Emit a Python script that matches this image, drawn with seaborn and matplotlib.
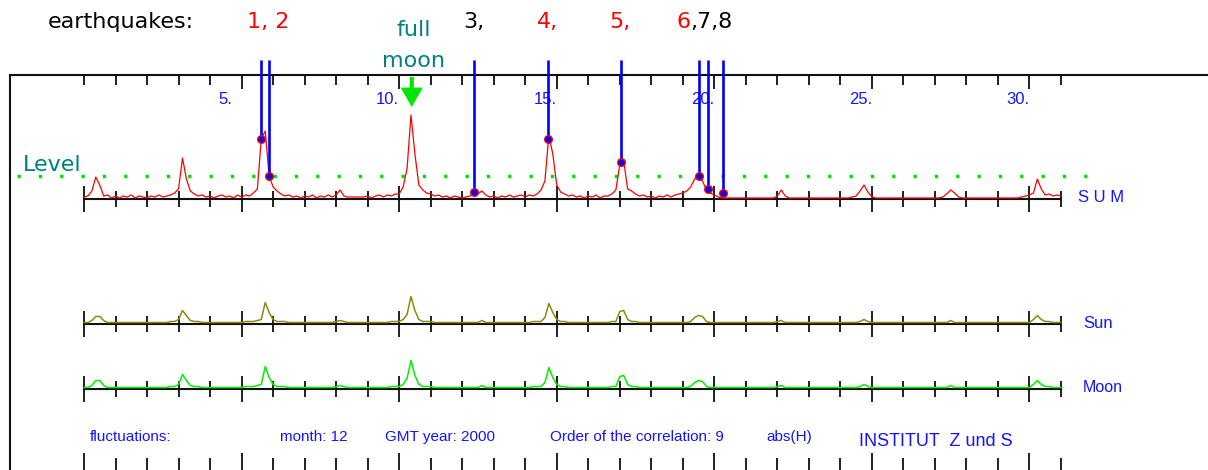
import numpy as np
import matplotlib.pyplot as plt
import matplotlib.transforms as mtransforms
from matplotlib.ticker import FixedLocator
import seaborn as sns

# correlation strength per 3-hour step (8 values per day), December 2000
sum_by_day = [
    [2, 3, 8, 22, 14, 3, 4, 1],
    [3, 1, 3, 2, 4, 1, 3, 2],
    [1, 3, 2, 4, 2, 3, 4, 6],
    [10, 41, 20, 8, 5, 3, 4, 2],
    [3, 1, 3, 4, 2, 3, 1, 4],
    [2, 4, 3, 6, 10, 60, 68, 23],
    [12, 8, 5, 3, 4, 2, 3, 1],
    [3, 2, 4, 1, 3, 2, 4, 2],
    [4, 9, 3, 2, 2, 2, 2, 2],
    [3, 1, 3, 4, 2, 4, 3, 5],
    [5, 12, 30, 84, 45, 14, 9, 6],
    [5, 3, 4, 2, 3, 1, 3, 2],
    [1, 2, 3, 6, 5, 8, 4, 2],
    [3, 1, 3, 2, 4, 2, 3, 4],
    [2, 4, 3, 5, 9, 18, 64, 45],
    [14, 7, 5, 3, 4, 2, 3, 1],
    [3, 2, 4, 1, 3, 3, 5, 9],
    [34, 38, 10, 8, 5, 3, 4, 2],
    [3, 1, 3, 2, 4, 2, 4, 5],
    [6, 8, 12, 20, 24, 18, 9, 6],
    [4, 2, 1, 1, 1, 1, 1, 1],
    [1, 1, 1, 1, 1, 1, 1, 1],
    [3, 9, 3, 1, 1, 1, 1, 1],
    [1, 1, 1, 1, 1, 1, 1, 1],
    [1, 1, 1, 2, 3, 8, 14, 7],
    [2, 1, 1, 1, 1, 1, 1, 1],
    [1, 1, 1, 1, 1, 1, 1, 1],
    [1, 1, 2, 5, 9, 6, 2, 1],
    [1, 1, 1, 1, 1, 1, 1, 1],
    [1, 1, 1, 1, 1, 1, 2, 3],
    [4, 6, 20, 10, 4, 5, 3, 4],
]
sum_last = 3

sun_by_day = [
    [0, 0, 2, 6, 6, 2, 0, 0],
    [0, 0, 0, 0, 0, 0, 0, 0],
    [0, 0, 0, 0, 0, 0, 1, 1],
    [3, 12, 7, 2, 1, 1, 0, 0],
    [0, 0, 0, 0, 0, 0, 0, 0],
    [0, 1, 1, 1, 2, 3, 20, 10],
    [3, 1, 1, 1, 0, 0, 0, 0],
    [0, 0, 0, 0, 0, 0, 0, 0],
    [1, 2, 1, 0, 0, 0, 0, 0],
    [0, 0, 0, 0, 0, 0, 1, 1],
    [1, 3, 8, 26, 12, 3, 1, 1],
    [1, 0, 0, 0, 0, 0, 0, 0],
    [0, 0, 0, 0, 0, 2, 0, 0],
    [0, 0, 0, 0, 0, 0, 0, 0],
    [0, 0, 1, 1, 1, 5, 19, 10],
    [3, 1, 1, 0, 0, 0, 0, 0],
    [0, 0, 0, 0, 0, 0, 1, 1],
    [11, 12, 3, 1, 1, 0, 0, 0],
    [0, 0, 0, 0, 0, 0, 0, 0],
    [0, 0, 1, 5, 7, 6, 1, 0],
    [0, 0, 0, 0, 0, 0, 0, 0],
    [0, 0, 0, 0, 0, 0, 0, 0],
    [1, 2, 0, 0, 0, 0, 0, 0],
    [0, 0, 0, 0, 0, 0, 0, 0],
    [0, 0, 0, 0, 0, 1, 3, 1],
    [0, 0, 0, 0, 0, 0, 0, 0],
    [0, 0, 0, 0, 0, 0, 0, 0],
    [0, 0, 0, 0, 2, 0, 0, 0],
    [0, 0, 0, 0, 0, 0, 0, 0],
    [0, 0, 0, 0, 0, 0, 0, 0],
    [0, 3, 7, 3, 1, 1, 0, 0],
]
sun_last = 0

moon_by_day = [
    [0, 0, 2, 7, 7, 2, 0, 0],
    [0, 0, 0, 0, 0, 0, 0, 0],
    [0, 0, 0, 0, 0, 0, 1, 1],
    [3, 13, 7, 2, 1, 1, 0, 0],
    [0, 0, 0, 0, 0, 0, 0, 0],
    [0, 1, 1, 1, 2, 3, 21, 10],
    [3, 1, 1, 1, 0, 0, 0, 0],
    [0, 0, 0, 0, 0, 0, 0, 0],
    [1, 2, 1, 0, 0, 0, 0, 0],
    [0, 0, 0, 0, 0, 0, 1, 1],
    [1, 3, 9, 27, 12, 3, 1, 1],
    [1, 0, 0, 0, 0, 0, 0, 0],
    [0, 0, 0, 0, 0, 2, 0, 0],
    [0, 0, 0, 0, 0, 0, 0, 0],
    [0, 0, 1, 1, 1, 5, 20, 10],
    [3, 1, 1, 0, 0, 0, 0, 0],
    [0, 0, 0, 0, 0, 0, 1, 1],
    [11, 12, 3, 1, 1, 0, 0, 0],
    [0, 0, 0, 0, 0, 0, 0, 0],
    [0, 0, 1, 5, 7, 6, 1, 0],
    [0, 0, 0, 0, 0, 0, 0, 0],
    [0, 0, 0, 0, 0, 0, 0, 0],
    [1, 2, 0, 0, 0, 0, 0, 0],
    [0, 0, 0, 0, 0, 0, 0, 0],
    [0, 0, 0, 0, 0, 1, 3, 1],
    [0, 0, 0, 0, 0, 0, 0, 0],
    [0, 0, 0, 0, 0, 0, 0, 0],
    [0, 0, 0, 0, 2, 0, 0, 0],
    [0, 0, 0, 0, 0, 0, 0, 0],
    [0, 0, 0, 0, 0, 0, 0, 0],
    [0, 3, 7, 3, 1, 1, 0, 0],
]
moon_last = 0

# earthquakes: time (days since Dec 1, 0h) and correlation at that time
quake_days = [5.62, 5.87, 12.37, 14.72, 17.04, 19.51, 19.80, 20.28]
quake_values = [60, 23, 7, 60, 37, 23, 10, 6]
full_moon_day = 10.40
level = 23

day_labels = [5, 10, 15, 20, 25, 30]
n_days = 31

sum_values = [v for day in sum_by_day for v in day] + [sum_last]
sun_values = [v for day in sun_by_day for v in day] + [sun_last]
moon_values = [v for day in moon_by_day for v in day] + [moon_last]
t = np.arange(len(sum_values)) / 8.0

W, H = 1208, 470
PPD = (1061 - 84) / 31.0
X0 = 84


def px_day(px):
    return (px - X0) / PPD


XLIM = (px_day(10), px_day(1208))
BLUE = "#1414ff"
TICK = "#202020"

sns.set_theme(style="white")
plt.rcParams["font.family"] = ["DejaVu Sans"]

fig = plt.figure(figsize=(W / 100, H / 100), dpi=100)

# outer frame with day ticks hanging from the top line
axf = fig.add_axes([10 / W, 0, 1198 / W, (H - 74.5) / H])
axf.set_xlim(XLIM)
axf.set_ylim(0, 1)
axf.patch.set_alpha(0)
for s in ["right", "bottom"]:
    axf.spines[s].set_visible(False)
for s in ["left", "top"]:
    axf.spines[s].set_color("#111111")
    axf.spines[s].set_linewidth(1.5)
axf.xaxis.set_ticks_position("top")
axf.xaxis.set_major_locator(FixedLocator(day_labels))
axf.xaxis.set_minor_locator(FixedLocator([d for d in range(n_days + 1) if d not in day_labels]))
axf.tick_params(axis="x", which="major", direction="in", length=10, width=1.4, color=TICK, labeltop=False)
axf.tick_params(axis="x", which="minor", direction="in", length=7.2, width=1.4, color=TICK)
axf.set_yticks([])
for d in day_labels:
    axf.text(d - 23 / PPD, (H - 100) / (H - 74.5), f"{d}.", transform=axf.get_xaxis_transform(),
             ha="left", va="center", color=BLUE, fontsize=12, family="Liberation Sans")


def add_row(top_px, bottom_px, base_px, show_line=True):
    ax = fig.add_axes([10 / W, 1 - bottom_px / H, 1198 / W, (bottom_px - top_px) / H])
    ax.set_xlim(XLIM)
    ax.set_ylim(-(bottom_px - base_px), base_px - top_px)
    ax.patch.set_alpha(0)
    for s in ["left", "right", "top"]:
        ax.spines[s].set_visible(False)
    sp = ax.spines["bottom"]
    sp.set_position(("data", 0))
    sp.set_bounds(0, n_days)
    sp.set_linewidth(1.5)
    sp.set_color("#111111" if show_line else "none")
    ax.xaxis.set_major_locator(FixedLocator(list(range(0, n_days, 5))))
    ax.xaxis.set_minor_locator(FixedLocator([d for d in range(n_days + 1) if d % 5 or d == n_days]))
    ax.tick_params(axis="x", which="major", direction="inout", length=18.7, width=1.4,
                   color=TICK, labelbottom=False, bottom=True)
    ax.tick_params(axis="x", which="minor", direction="inout", length=11.5, width=1.4,
                   color=TICK, bottom=True)
    ax.set_yticks([])
    return ax


ax_sum = add_row(60, 216, 199)
ax_sun = add_row(285, 350, 324)
ax_moon = add_row(350, 415, 389)
ax_foot = add_row(440, 495, 466.5, show_line=False)

# SUM panel
ax_sum.plot([px_day(16.5), px_day(1100)], [level, level], color="#00e000", lw=2.4,
            linestyle=(0, (1, 5.4)), zorder=2)
sns.lineplot(x=t, y=sum_values, ax=ax_sum, color="red", lw=0.9, zorder=3)
top = ax_sum.get_ylim()[1]
ax_sum.vlines(quake_days, quake_values, top, color="#0000ff", lw=1.9, zorder=4)
sns.scatterplot(x=quake_days, y=quake_values, ax=ax_sum, color="#0000ff", edgecolor="red",
                linewidth=1, s=30, zorder=5)
ax_sum.annotate("", xy=(full_moon_day, 199 - 107), xytext=(full_moon_day, 199 - 77),
                arrowprops=dict(facecolor="#00e600", edgecolor="none", width=3,
                                headwidth=16, headlength=14, shrink=0))

# Sun and Moon panels (curve drawn just above the black base line)
for ax, vals, col in [(ax_sun, sun_values, "#8a8a10"), (ax_moon, moon_values, "#00f000")]:
    tr = mtransforms.offset_copy(ax.transData, fig=fig, x=0, y=1.5, units="dots")
    sns.lineplot(x=t, y=vals, ax=ax, color=col, lw=1.1, transform=tr, zorder=3)

for ax in [ax_sum, ax_sun, ax_moon]:
    ax.set_xlim(XLIM)
    ax.set_xlabel("")
    ax.set_ylabel("")


def fx(px):
    return px / W


def fy(py):
    return 1 - py / H


# headline
fig.text(fx(48), fy(28), "earthquakes:", fontsize=16, color="black", va="baseline")
quake_text = [(247, "1, 2", "red"), (463, "3,", "black"), (537, "4,", "red"), (609, "5,", "red")]
for px, s, c in quake_text:
    fig.text(fx(px), fy(28), s, fontsize=16, color=c, va="baseline")
t6 = fig.text(fx(676), fy(28), "6", fontsize=16, color="red", va="baseline")
ax_sum.annotate(",7,8", xy=(1, 0), xycoords=t6, va="bottom", ha="left",
                fontsize=16, color="black", annotation_clip=False)
fig.text(fx(414), fy(36), "full", fontsize=16, color="#008080", ha="center", va="baseline")
fig.text(fx(414), fy(67), "moon", fontsize=16, color="#008080", ha="center", va="baseline")
fig.text(fx(23), fy(171), "Level", fontsize=16, color="#008080", va="baseline")

# row names
fig.text(fx(1078), fy(197), "S U M", fontsize=12, color=BLUE, va="center", family="Liberation Sans")
fig.text(fx(1083), fy(324), "Sun", fontsize=12, color=BLUE, va="center", family="Liberation Sans")
fig.text(fx(1083), fy(388), "Moon", fontsize=11.5, color=BLUE, va="center", family="Liberation Sans")

# footer
footer = [(90, "fluctuations:"), (280, "month: 12"), (385, "GMT year: 2000"),
          (550, "Order of the correlation: 9"), (766, "abs(H)")]
for px, s in footer:
    fig.text(fx(px), fy(437), s, fontsize=11, color=BLUE, va="center", family="Liberation Sans")
fig.text(fx(859), fy(441), "INSTITUT  Z und S", fontsize=13, color=BLUE, va="center",
         family="Liberation Sans")

fig.savefig("out.png", dpi=100)
